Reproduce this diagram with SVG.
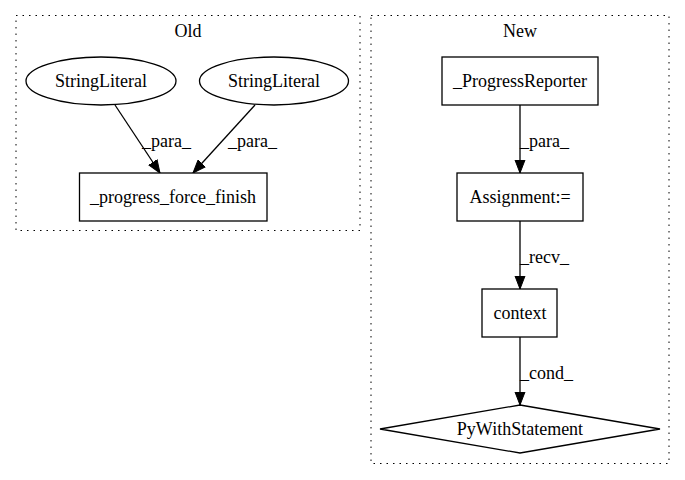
<svg xmlns="http://www.w3.org/2000/svg" width="685" height="480" viewBox="0 0 685 480">
<defs>
<marker id="ah" markerWidth="14" markerHeight="12" refX="13" refY="6" orient="auto" markerUnits="userSpaceOnUse">
<path d="M0,1 L13,6 L0,11 Z" fill="#000" stroke="#000"/>
</marker>
<style>
text{font-family:"Liberation Serif","Times New Roman",serif;font-size:18px;fill:#000}
.c{fill:none;stroke:#000;stroke-dasharray:1.5,5}
.n{fill:#fff;stroke:#000;stroke-width:1.3}
.e{fill:none;stroke:#000;stroke-width:1.3}
.m{text-anchor:middle}
</style>
</defs>
<rect width="685" height="480" fill="#fff"/>
<g id="cluster_old">
<rect class="c" x="16" y="15.5" width="344" height="215"/>
<text class="m" x="188" y="37">Old</text>
</g>
<g id="cluster_new">
<rect class="c" x="371" y="15.5" width="298" height="448"/>
<text class="m" x="520" y="37">New</text>
</g>
<g id="connectors">
<line class="e" x1="115" y1="105" x2="160" y2="173" marker-end="url(#ah)"/>
<text x="142" y="147">_para_</text>
<line class="e" x1="255" y1="105" x2="193" y2="173" marker-end="url(#ah)"/>
<text x="228" y="147">_para_</text>
<line class="e" x1="520" y1="105" x2="520" y2="173" marker-end="url(#ah)"/>
<text x="520" y="147">_para_</text>
<line class="e" x1="520" y1="221" x2="520" y2="289" marker-end="url(#ah)"/>
<text x="520" y="263">_recv_</text>
<line class="e" x1="520" y1="337" x2="520" y2="405" marker-end="url(#ah)"/>
<text x="520" y="379">_cond_</text>
</g>
<g id="n1">
<ellipse class="n" cx="101" cy="81" rx="75" ry="24"/>
<text class="m" x="101" y="87">StringLiteral</text>
</g>
<g id="n2">
<ellipse class="n" cx="274" cy="81" rx="74.5" ry="24"/>
<text class="m" x="274" y="87">StringLiteral</text>
</g>
<g id="n3">
<rect class="n" x="79.5" y="173" width="187.5" height="48"/>
<text class="m" x="173" y="203">_progress_force_finish</text>
</g>
<g id="n4">
<rect class="n" x="442" y="57" width="156" height="48"/>
<text class="m" x="520" y="87">_ProgressReporter</text>
</g>
<g id="n5">
<rect class="n" x="457" y="173" width="126" height="48"/>
<text class="m" x="520" y="203">Assignment:=</text>
</g>
<g id="n6">
<rect class="n" x="482" y="289" width="75" height="48"/>
<text class="m" x="520" y="319">context</text>
</g>
<g id="n7">
<polygon class="n" points="520,405 660,429 520,453 380,429"/>
<text class="m" x="520" y="435">PyWithStatement</text>
</g>
</svg>
